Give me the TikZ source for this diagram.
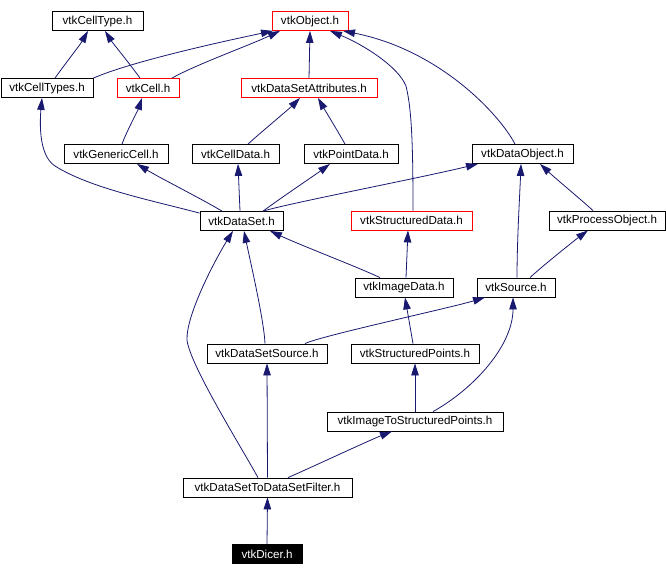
\documentclass[tikz,border=0pt]{standalone}
\usepackage{fontspec}
\setmainfont{Liberation Sans}
\usetikzlibrary{arrows.meta}
\definecolor{edgenavy}{RGB}{25,25,112}
\definecolor{boxred}{RGB}{255,0,0}
\tikzset{
  hdr/.style={draw=black,line width=0.8pt,inner sep=0pt,minimum height=19,
    font=\fontsize{11.6}{13}\selectfont},
  hdrred/.style={hdr,draw=boxred},
  hdrcur/.style={hdr,fill=black,text=white},
  dep/.style={draw=edgenavy,line width=0.8pt,-{Triangle[length=12pt,width=7.5pt]}}
}

\begin{document}
\begin{tikzpicture}[x=1pt,y=-1pt]
    \useasboundingbox (0,0) rectangle (666,576);
    % header boxes, row by row
    \node[hdr,minimum width=91]     (ctype)  at (97.5,21)  {vtkCellType.h};
    \node[hdrred,minimum width=76]  (obj)    at (310,21)   {vtkObject.h};
    \node[hdr,minimum width=92]     (ctypes) at (47,88)    {vtkCellTypes.h};
    \node[hdrred,minimum width=62]  (cell)   at (148,88)   {vtkCell.h};
    \node[hdrred,minimum width=136] (dsa)    at (309,88)   {vtkDataSetAttributes.h};
    \node[hdr,minimum width=104]    (gcell)  at (116,154)  {vtkGenericCell.h};
    \node[hdr,minimum width=87]     (cdata)  at (235.5,154) {vtkCellData.h};
    \node[hdr,minimum width=94]     (pdata)  at (351,154)  {vtkPointData.h};
    \node[hdr,minimum width=101]    (dobj)   at (522.5,154) {vtkDataObject.h};
    \node[hdr,minimum width=83]     (dset)   at (241.5,221) {vtkDataSet.h};
    \node[hdrred,minimum width=121] (sdata)  at (411.5,220.5) {vtkStructuredData.h};
    \node[hdr,minimum width=116]    (pobj)   at (607,220.5) {vtkProcessObject.h};
    \node[hdr,minimum width=98]     (idata)  at (404,287.5) {vtkImageData.h};
    \node[hdr,minimum width=78]     (src)    at (516,287.5) {vtkSource.h};
    \node[hdr,minimum width=120]    (dssrc)  at (267,353.5) {vtkDataSetSource.h};
    \node[hdr,minimum width=128]    (spts)   at (415,353.5) {vtkStructuredPoints.h};
    \node[hdr,minimum width=176]    (i2sp)   at (415,421.5) {vtkImageToStructuredPoints.h};
    \node[hdr,minimum width=169]    (ds2ds)  at (267.5,487.5) {vtkDataSetToDataSetFilter.h};
    \node[hdrcur,minimum width=70]  (dicer)  at (267,554)  {vtkDicer.h};

    % dependencies
    \draw[dep] ([xshift=8]ctypes.north) .. controls (62,68) and (80,45) .. ([xshift=-9.5]ctype.south);
    \draw[dep] ([xshift=-8]cell.north) .. controls (133,68) and (112,42) .. ([xshift=7.5]ctype.south);
    \draw[dep] (ctypes.north east) .. controls (130,62) and (220,42) .. ([xshift=-37]obj.south);
    \draw[dep] ([xshift=24]cell.north) .. controls (195,65) and (250,45) .. ([xshift=-30]obj.south);
    \draw[dep] (dsa.north) -- (obj.south);
    \draw[dep] ([xshift=1.5]sdata.north) .. controls (413,150) and (412,110) .. (406,86)
        .. controls (398,66) and (362,44) .. ([xshift=20]obj.south);
    \draw[dep] ([xshift=-7.5]dobj.north) .. controls (500,115) and (440,50) .. ([xshift=33]obj.south);
    \draw[dep] ([xshift=6]gcell.north) .. controls (125,135) and (138,110) .. ([xshift=-6]cell.south);
    \draw[dep] ([xshift=12.5]cdata.north) .. controls (252,140) and (290,108) .. ([xshift=-9]dsa.south);
    \draw[dep] ([xshift=-6]pdata.north) .. controls (340,135) and (322,105) .. ([xshift=9]dsa.south);
    \draw[dep] ([yshift=-2]dset.north west) .. controls (150,200) and (90,188) .. (55,166)
        .. controls (38,155) and (40,120) .. ([xshift=-5]ctypes.south);
    \draw[dep] ([xshift=-19.5]dset.north) .. controls (200,198) and (160,178) .. ([xshift=21]gcell.south);
    \draw[dep] ([xshift=-1.5]dset.north) -- ([xshift=2.5]cdata.south);
    \draw[dep] ([xshift=21.5]dset.north) .. controls (285,195) and (315,175) .. ([xshift=-21]pdata.south);
    \draw[dep] ([xshift=21.5]dset.north) .. controls (290,203) and (420,178) .. ([xshift=-44.5]dobj.south);
    \draw[dep] ([xshift=-14]pobj.north) .. controls (585,203) and (555,178) .. ([xshift=17.5]dobj.south);
    \draw[dep] ([xshift=1]src.north) .. controls (517,240) and (520,190) .. ([xshift=-1.5]dobj.south);
    \draw[dep] ([xshift=14]src.north) .. controls (540,268) and (575,240) .. ([xshift=-19]pobj.south);
    \draw[dep] ([xshift=-24]idata.north) .. controls (360,268) and (300,245) .. ([xshift=28.5]dset.south);
    \draw[dep] ([xshift=2]idata.north) -- ([xshift=-3.5]sdata.south);
    \draw[dep] ([xshift=-2]dssrc.north) .. controls (264,320) and (250,260) .. ([xshift=2.5]dset.south);
    \draw[dep] ([xshift=38]dssrc.north) .. controls (320,336) and (450,308) .. ([xshift=-31]src.south);
    \draw[dep] ([xshift=-2]spts.north) -- ([xshift=1]idata.south);
    \draw[dep] (i2sp.north) -- (spts.south);
    \draw[dep] ([xshift=18]i2sp.north) .. controls (475,388) and (513,345) .. ([xshift=-3]src.south);
    \draw[dep] ([xshift=-9.5]ds2ds.north) .. controls (240,445) and (190,365) .. (187,340)
        .. controls (186,315) and (215,260) .. ([xshift=-8.5]dset.south);
    \draw[dep] (ds2ds.north) -- (dssrc.south);
    \draw[dep] ([xshift=20.5]ds2ds.north) .. controls (310,468) and (370,440) .. ([xshift=-23]i2sp.south);
    \draw[dep] (dicer.north) -- (ds2ds.south);
\end{tikzpicture}
\end{document}
